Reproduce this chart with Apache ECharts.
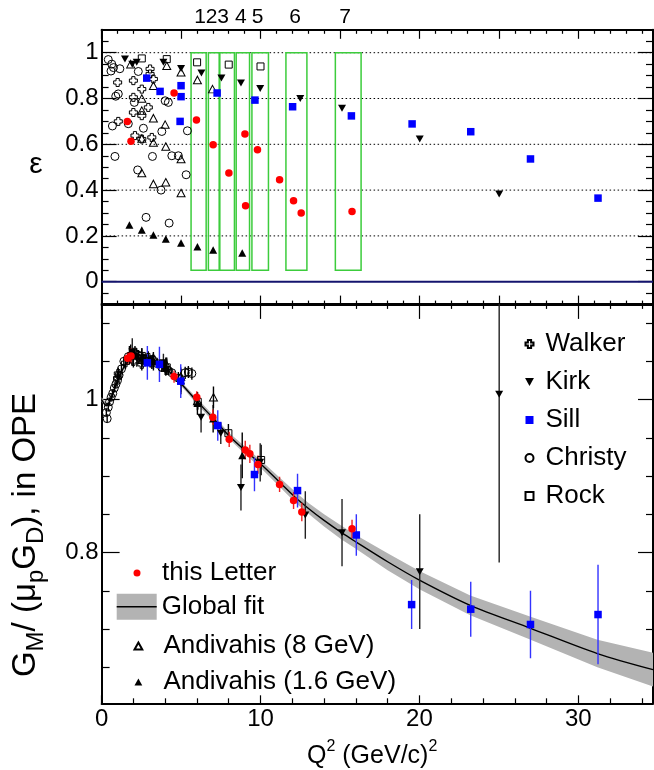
<!DOCTYPE html>
<html><head><meta charset="utf-8">
<script src="https://cdn.jsdelivr.net/npm/echarts@6/dist/echarts.min.js"></script>
<style>html,body{margin:0;padding:0;background:#fff}#c{width:654px;height:770px}</style>
</head><body><div id="c"></div><script>
const FONT = '"Liberation Sans", Arial, Helvetica, sans-serif';
const X_MAX = 34.7;

// ---------- top panel: epsilon vs Q2 ----------
const epsChristy = [[0.42,0.97],[0.64,0.95],[0.59,0.92],[0.75,0.935],[1.15,0.93],[1.05,0.82],[0.89,0.81],[0.68,0.68],[1.68,0.69],[2.06,0.783],[2.31,0.918],[2.63,0.67],[3.79,0.656],[4.2,0.783],[4.0,0.79],[4.42,0.55],[4.83,0.55],[5.4,0.659],[5.32,0.467],[0.84,0.547],[3.2,0.547],[2.27,0.488],[3.74,0.40],[2.8,0.281],[4.25,0.256]];
const epsWalker = [[1.01,0.87],[2.0,0.878],[3.05,0.929],[3.05,0.907],[2.0,0.805],[2.53,0.841],[1.05,0.70],[2.0,0.739],[2.53,0.725],[2.94,0.761],[2.1,0.638],[2.53,0.623],[3.16,0.63],[3.26,0.885]];
const epsKirk = [[1.47,0.972],[1.93,0.95],[2.21,0.958],[3.89,0.958],[5.0,0.931],[6.28,0.911],[7.54,0.889],[8.77,0.868],[9.98,0.844],[12.5,0.80],[15.13,0.757],[20.02,0.623],[25.02,0.383]];
const epsSill = [[2.84,0.889],[3.68,0.831],[5.0,0.856],[5.0,0.808],[4.94,0.70],[7.27,0.824],[9.65,0.793],[12.02,0.764],[15.72,0.724],[19.54,0.689],[23.23,0.655],[26.99,0.536],[31.24,0.365]];
const epsRock = [[2.53,0.975],[4.1,0.972],[6.01,0.958],[8.0,0.948],[10.0,0.94]];
const epsAnd8 = [[1.83,0.95],[2.53,0.80],[2.53,0.747],[3.26,0.714],[4.0,0.686],[4.1,0.943],[5.0,0.915],[3.26,0.856],[6.03,0.881],[6.98,0.841],[4.04,0.59],[5.0,0.536],[2.53,0.475],[3.26,0.427],[4.04,0.434],[5.0,0.387],[3.26,0.608],[2.53,0.625]];
const epsAnd16 = [[1.75,0.248],[2.53,0.226],[3.26,0.204],[4.04,0.186],[5.0,0.169],[6.03,0.153],[7.02,0.138],[8.85,0.125]];
const epsLetter = [[1.62,0.70],[1.85,0.613],[4.56,0.824],[5.97,0.706],[7.02,0.598],[8.01,0.475],[9.02,0.645],[9.06,0.332],[9.81,0.576],[11.2,0.445],[12.08,0.354],[12.56,0.30],[15.76,0.307]];

// kinematic bins (green boxes)
const binLo = [5.63,6.72,7.44,8.47,9.46,11.60,14.71];
const binHi = [6.58,7.40,8.36,9.31,10.50,12.92,16.33];
const binLabels = ['1','2','3','4','5','6','7'];
const BIN_EPS_TOP = 1.0, BIN_EPS_BOTTOM = 0.05;
const epsGridLines = [0.2,0.4,0.6,0.8,1.0];

// ---------- bottom panel: [Q2, GM/(mu GD), error] ----------
const gmLetter = [[1.64,1.054,0.008],[1.85,1.057,0.010],[4.56,1.030,0.008],[5.99,1.003,0.008],[7.0,0.977,0.010],[8.03,0.948,0.010],[9.04,0.934,0.012],[9.33,0.929,0.012],[9.84,0.915,0.012],[11.2,0.889,0.010],[12.08,0.868,0.011],[12.6,0.853,0.012],[15.76,0.831,0.012]];
const gmSill = [[2.88,1.048,0.022],[3.64,1.046,0.023],[4.98,1.024,0.022],[7.31,0.966,0.020],[9.62,0.902,0.022],[12.33,0.881,0.022],[16.03,0.823,0.027],[19.51,0.732,0.032],[23.23,0.726,0.036],[26.99,0.706,0.044],[31.24,0.719,0.065]];
const gmKirk = [[1.93,1.062,0.018],[2.21,1.055,0.012],[3.89,1.048,0.012],[5.0,1.022,0.015],[6.26,0.977,0.020],[7.5,0.956,0.014],[8.77,0.885,0.030],[9.98,0.918,0.025],[12.82,0.849,0.031],[15.13,0.826,0.044],[20.02,0.775,0.075],[25.02,1.007,0.220]];
const gmRock = [[2.53,1.057,0.010],[4.1,1.042,0.010],[6.05,0.997,0.010],[7.98,0.956,0.012],[10.04,0.921,0.020]];
const gmAnd8 = [[1.83,1.060,0.012],[2.53,1.052,0.010],[3.26,1.050,0.010],[4.0,1.042,0.010],[4.1,1.045,0.010],[4.98,1.030,0.012],[6.03,0.998,0.012],[7.04,1.003,0.014]];
const gmAnd16 = [[1.75,1.058,0.012],[2.53,1.055,0.012],[3.26,1.050,0.012],[4.04,1.043,0.012],[5.0,1.025,0.015],[6.03,0.995,0.015],[7.02,0.975,0.018],[8.85,0.927,0.030]];
const gmWalker = [[1.0,1.028,0.008],[1.05,1.034,0.008],[1.5,1.048,0.008],[2.0,1.058,0.008],[2.0,1.050,0.008],[2.1,1.062,0.008],[2.53,1.052,0.008],[2.53,1.046,0.008],[2.94,1.055,0.008],[3.05,1.050,0.008],[3.16,1.048,0.008],[3.26,1.052,0.008]];
const gmChristy = [[0.3,0.983,0.005],[0.35,0.975,0.005],[0.42,0.99,0.005],[0.5,0.997,0.005],[0.6,1.003,0.005],[0.7,1.008,0.005],[0.8,1.015,0.005],[0.9,1.02,0.005],[1.0,1.025,0.005],[1.1,1.032,0.005],[1.25,1.04,0.006],[1.4,1.05,0.006],[1.68,1.056,0.006],[2.06,1.06,0.006],[2.31,1.058,0.006],[2.63,1.054,0.006],[2.8,1.05,0.006],[3.2,1.052,0.006],[3.5,1.047,0.006],[3.79,1.042,0.006],[4.2,1.038,0.006],[4.42,1.035,0.006],[4.83,1.028,0.008],[5.26,1.035,0.008],[5.46,1.036,0.008],[5.68,1.034,0.008]];

// global fit (central curve and half-width of band)
const fitQ2  = [0,0.3,0.6,1.0,1.5,2.0,2.5,3.0,3.5,4.0,4.6,5.3,5.9,7.0,8.0,9.0,10.1,11.2,12.2,13.0,14.0,15.1,16.0,18.0,20.0,23.2,27.0,31.2,34.7];
const fitVal = [1.000,0.992,1.002,1.024,1.046,1.056,1.058,1.055,1.049,1.041,1.030,1.014,1.000,0.976,0.953,0.934,0.914,0.892,0.872,0.858,0.842,0.826,0.814,0.788,0.764,0.731,0.701,0.668,0.647];
const fitErr = [0.003,0.003,0.003,0.003,0.003,0.003,0.003,0.003,0.003,0.003,0.003,0.003,0.004,0.004,0.004,0.005,0.005,0.006,0.007,0.007,0.008,0.009,0.009,0.011,0.012,0.013,0.015,0.018,0.022];

// ticks
const xTicksTop = [0,5,10,15,20,25,30];
const xTicksBottom = [0,10,20,30];
const epsTicks = [0,0.2,0.4,0.6,0.8,1];
const gmTicks = [0.8,1];
const xMinorTop = []; for (let i=1;i<35;i++) if (i%5) xMinorTop.push(i);
const xMinorBottom = []; for (let i=2;i<35;i+=2) if (i%10) xMinorBottom.push(i);
const epsMinor = []; for (let k=-1;k<=21;k++) if (k%4) epsMinor.push(+(k*0.05).toFixed(2));
const gmMinor = [0.65,0.7,0.75,0.85,0.9,0.95,1.05,1.1];

const EPS_MIN=-0.1, EPS_MAX=1.1, GM_MIN=0.603, GM_MAX=1.125;

function fmt(v){ return String(+(+v).toFixed(2)); }
function mkX(grid,pos,ticks,len,line,label){
  return {type:'value',gridIndex:grid,position:pos,min:0,max:X_MAX,
    axisLine:{show:line,onZero:false,lineStyle:{color:'#000',width:2}},
    axisTick:{show:true,inside:true,length:len,customValues:ticks,lineStyle:{color:'#000',width:1.2}},
    axisLabel:label?{show:true,customValues:ticks,color:'#000',fontSize:24,fontFamily:FONT,margin:4,formatter:fmt}:{show:false},
    splitLine:{show:false},minorTick:{show:false}};
}
function mkY(grid,pos,min,max,ticks,len,line,label){
  return {type:'value',gridIndex:grid,position:pos,min:min,max:max,
    axisLine:{show:line,onZero:false,lineStyle:{color:'#000',width:2}},
    axisTick:{show:true,inside:true,length:len,customValues:ticks,lineStyle:{color:'#000',width:1.2}},
    axisLabel:label?{show:true,customValues:ticks,color:'#000',fontSize:24,fontFamily:FONT,margin:3,formatter:fmt}:{show:false},
    splitLine:{show:false},minorTick:{show:false}};
}

const xAxis = [
  mkX(0,'bottom',xTicksTop,9,true,false),
  mkX(0,'bottom',xMinorTop,4,false,false),
  mkX(0,'top',xTicksTop,9,true,false),
  mkX(0,'top',xMinorTop,4,false,false),
  mkX(1,'bottom',xTicksBottom,8,true,true),
  mkX(1,'bottom',xMinorBottom,5,false,false),
  mkX(1,'top',xTicksBottom,15,true,false),
  mkX(1,'top',xMinorBottom,5,false,false)
];
const yAxis = [
  mkY(0,'left',EPS_MIN,EPS_MAX,epsTicks,15,true,true),
  mkY(0,'left',EPS_MIN,EPS_MAX,epsMinor,7,false,false),
  mkY(0,'right',EPS_MIN,EPS_MAX,epsTicks,15,true,false),
  mkY(0,'right',EPS_MIN,EPS_MAX,epsMinor,7,false,false),
  mkY(1,'left',GM_MIN,GM_MAX,gmTicks,18,true,true),
  mkY(1,'left',GM_MIN,GM_MAX,gmMinor,8,false,false),
  mkY(1,'right',GM_MIN,GM_MAX,gmTicks,15,true,false),
  mkY(1,'right',GM_MIN,GM_MAX,gmMinor,7,false,false)
];

const OPEN = {color:'rgba(0,0,0,0)',borderColor:'#000',borderWidth:1,opacity:1};
const CROSS = 'path://M3,0H7V3H10V7H7V10H3V7H0V3H3Z';
const DOWN = 'path://M0,0L10,0L5,9Z';
const UP = 'path://M5,0L10,9L0,9Z';
const SQUARE = 'path://M0,0H10V10H0Z';
const styles = {
  'Christy':{symbol:'circle',size:8,style:OPEN,err:'#000'},
  'Walker':{symbol:CROSS,size:8,style:OPEN,err:'#000'},
  'Rock':{symbol:SQUARE,size:7,style:OPEN,err:'#000'},
  'Andivahis (8 GeV)':{symbol:UP,size:[8,7.5],style:OPEN,err:'#000'},
  'Andivahis (1.6 GeV)':{symbol:UP,size:[8,7.5],style:{color:'#000',opacity:1},err:'#000'},
  'Kirk':{symbol:DOWN,size:[8,7],style:{color:'#000',opacity:1},err:'#222'},
  'Sill':{symbol:SQUARE,size:7.5,style:{color:'#0000ff',opacity:1},err:'#3333ff'},
  'this Letter':{symbol:'circle',size:7.5,style:{color:'#ff0000',opacity:1},err:'#f02020'}
};
const topSets = [['Christy',epsChristy],['Walker',epsWalker],['Rock',epsRock],['Andivahis (8 GeV)',epsAnd8],['Andivahis (1.6 GeV)',epsAnd16],['Kirk',epsKirk],['Sill',epsSill],['this Letter',epsLetter]];
const botSets = [['Christy',gmChristy],['Walker',gmWalker],['Rock',gmRock],['Andivahis (8 GeV)',gmAnd8],['Andivahis (1.6 GeV)',gmAnd16],['Kirk',gmKirk],['Sill',gmSill],['this Letter',gmLetter]];

const series = [];
// top panel helpers
series.push({type:'custom',name:'eps grid',xAxisIndex:0,yAxisIndex:0,z:1,silent:true,
  data:epsGridLines.map(v=>[v]),
  renderItem:(p,api)=>{const v=api.value(0);const a=api.coord([0,v]),b=api.coord([X_MAX,v]);
    return {type:'line',shape:{x1:a[0],y1:a[1],x2:b[0],y2:b[1]},style:{stroke:'#000',lineWidth:1,lineDash:[1.5,2.5]}};}});
series.push({type:'custom',name:'eps zero',xAxisIndex:0,yAxisIndex:0,z:1,silent:true,
  data:[[0]],
  renderItem:(p,api)=>{const a=api.coord([0,0]),b=api.coord([X_MAX,0]);
    return {type:'line',shape:{x1:a[0],y1:a[1],x2:b[0],y2:b[1]},style:{stroke:'#14146e',lineWidth:2}};}});
series.push({type:'custom',name:'bins',xAxisIndex:0,yAxisIndex:0,z:2,silent:true,
  data:binLo.map((l,i)=>[l,binHi[i]]),
  renderItem:(p,api)=>{const a=api.coord([api.value(0),BIN_EPS_TOP]),b=api.coord([api.value(1),BIN_EPS_BOTTOM]);
    return {type:'rect',shape:{x:a[0],y:a[1],width:b[0]-a[0],height:b[1]-a[1]},style:{fill:'none',stroke:'#3ccc3c',lineWidth:1.5}};}});
topSets.forEach(([n,d])=>{const s=styles[n];
  series.push({type:'scatter',name:n,xAxisIndex:0,yAxisIndex:0,z:4,silent:true,data:d,symbol:s.symbol,symbolSize:s.size,itemStyle:s.style});});

// bottom panel
series.push({type:'custom',name:'Global fit',xAxisIndex:4,yAxisIndex:4,z:1,silent:true,clip:true,
  itemStyle:{color:'#b3b3b3'},data:[[0]],
  renderItem:(p,api)=>{const pts=[];
    for(let i=0;i<fitQ2.length;i++) pts.push(api.coord([fitQ2[i],fitVal[i]+fitErr[i]]));
    for(let i=fitQ2.length-1;i>=0;i--) pts.push(api.coord([fitQ2[i],fitVal[i]-fitErr[i]]));
    return {type:'polygon',shape:{points:pts},style:{fill:'#b3b3b3'}};}});
series.push({type:'line',name:'Global fit line',xAxisIndex:4,yAxisIndex:4,z:2,silent:true,
  data:fitQ2.map((q,i)=>[q,fitVal[i]]),showSymbol:false,smooth:0.3,lineStyle:{color:'#000',width:1.4}});
botSets.forEach(([n,d])=>{const s=styles[n];
  series.push({type:'custom',name:n+' err',xAxisIndex:4,yAxisIndex:4,z:3,silent:true,clip:true,data:d,
    renderItem:(p,api)=>{const x=api.value(0),y=api.value(1),e=api.value(2);
      const a=api.coord([x,y-e]),b=api.coord([x,y+e]);
      return {type:'line',shape:{x1:a[0],y1:a[1],x2:b[0],y2:b[1]},style:{stroke:s.err,lineWidth:1.4}};}});
});
botSets.forEach(([n,d])=>{const s=styles[n];
  series.push({type:'scatter',name:n,xAxisIndex:4,yAxisIndex:4,z:4,silent:true,data:d.map(r=>[r[0],r[1]]),symbol:s.symbol,symbolSize:s.size,itemStyle:s.style});});

// rich text helper (sub/superscripts)
const mctx = document.createElement('canvas').getContext('2d');
function richGroup(segs,size,x,y,rotation,anchor,ratio){
  let pos=0; const kids=[]; const r = ratio||0.64;
  segs.forEach(s=>{
    const fs = s[1] ? Math.round(size*r) : size;
    const font = fs+'px '+FONT; mctx.font = font;
    const w = mctx.measureText(s[0]).width;
    const dy = s[1]==='sub' ? size*0.32 : s[1]==='sup' ? -size*0.36 : 0;
    kids.push({type:'text',x:pos,y:dy,style:{text:s[0],font:font,fill:'#000',align:'left',verticalAlign:'middle',textAlign:'left',textVerticalAlign:'middle'}});
    pos += w;
  });
  const off = anchor==='start' ? 0 : -pos/2;
  kids.forEach(k=>k.x+=off);
  return {type:'group',x:x,y:y,rotation:rotation||0,children:kids,silent:true};
}
function txt(t,x,y,size,align){
  return {type:'text',x:x,y:y,silent:true,style:{text:t,font:size+'px '+FONT,fill:'#000',align:align||'center',verticalAlign:'middle',textAlign:align||'center',textVerticalAlign:'middle'}};
}
const binLabelPx = [200,211.7,223,240.8,257.5,295,345];
const graphic = [
  txt('ε',36,165,30),
  richGroup([['G'],['M','sub'],['/ (μ'],['p','sub'],['G'],['D','sub'],['), in OPE']],33,26,535,Math.PI/2,null,0.72),
  richGroup([['Q'],['2','sup'],[' (GeV/c)'],['2','sup']],25,307,756,0,'start'),
  {type:'line',z:100,silent:true,shape:{x1:116.7,y1:606.7,x2:156.7,y2:606.7},style:{stroke:'#000',lineWidth:1.5}}
].concat(binLabels.map((t,i)=>txt(t,binLabelPx[i],17.5,21)));

const LT = {fontSize:26,fontFamily:FONT,color:'#000',lineHeight:25};
const option = {
  animation:false,
  backgroundColor:'#fff',
  grid:[
    {left:101.6,top:29.8,width:551.4,height:274.8,outerBoundsMode:'none',containLabel:false},
    {left:101.6,top:303.9,width:551.4,height:399.4,outerBoundsMode:'none',containLabel:false}
  ],
  xAxis, yAxis, series, graphic,
  legend:[
    {data:['Walker','Kirk','Sill','Christy','Rock'],orient:'vertical',left:524.5,top:331,itemWidth:22,itemHeight:8,itemGap:12,padding:0,selectedMode:false,textStyle:LT},
    {data:['this Letter'],orient:'vertical',left:133.5,top:560,itemWidth:40,itemHeight:7,padding:0,selectedMode:false,textStyle:LT},
    {data:[{name:'Global fit',icon:'rect',itemStyle:{color:'#b3b3b3',borderWidth:0}}],orient:'vertical',left:116.7,top:593.7,itemWidth:40,itemHeight:26,padding:0,selectedMode:false,textStyle:LT},
    {data:['Andivahis (8 GeV)','Andivahis (1.6 GeV)'],orient:'vertical',left:133.5,top:633,itemWidth:40,itemHeight:7,itemGap:10,padding:0,selectedMode:false,textStyle:LT}
  ]
};
const chart = echarts.init(document.getElementById('c'),null,{renderer:'canvas'});
chart.setOption(option);
</script></body></html>
